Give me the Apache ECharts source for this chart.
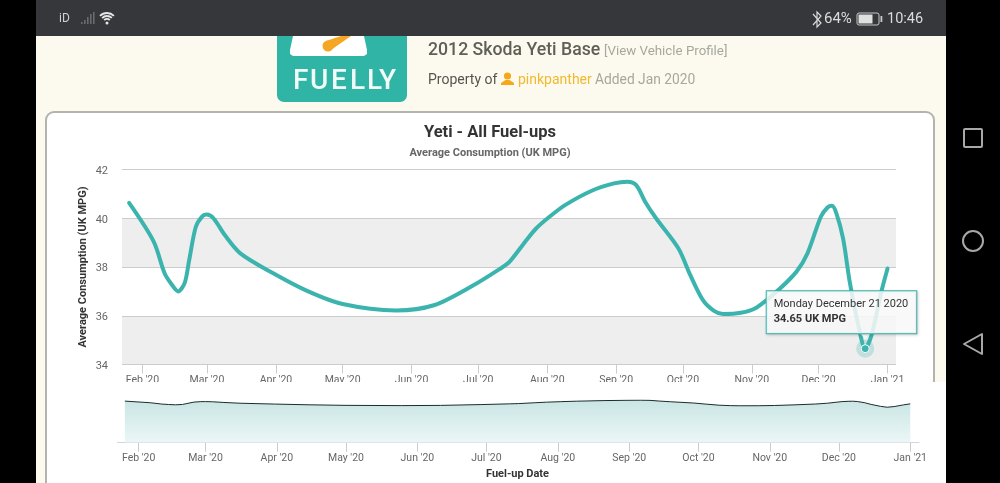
<!DOCTYPE html>
<html>
<head>
<meta charset="utf-8">
<style>html,body{margin:0;padding:0;background:#000}#c{width:1000px;height:483px}</style>
<script src="https://cdn.jsdelivr.net/npm/echarts@6/dist/echarts.min.js"></script>
</head>
<body>
<div id="c"></div>
<script>
const fuelDates = ['2020-01-26','2020-02-06','2020-02-11','2020-02-14','2020-02-17','2020-02-20','2020-02-22','2020-02-25','2020-02-28','2020-03-01','2020-03-04','2020-03-09','2020-03-16','2020-03-31','2020-04-15','2020-05-01','2020-05-25','2020-06-11','2020-06-29','2020-07-11','2020-07-15','2020-07-22','2020-07-27','2020-08-02','2020-08-09','2020-08-21','2020-08-31','2020-09-06','2020-09-10','2020-09-14','2020-09-19','2020-09-29','2020-10-04','2020-10-10','2020-10-15','2020-10-19','2020-10-27','2020-11-03','2020-11-12','2020-11-21','2020-11-26','2020-12-02','2020-12-05','2020-12-07','2020-12-09','2020-12-12','2020-12-15','2020-12-19','2020-12-21T23:00','2020-12-25','2020-12-29','2021-01-01'];
const mpgValues = [40.63,39.05,37.73,37.3,37.0,37.35,38.28,39.65,40.09,40.15,39.99,39.31,38.56,37.73,37.02,36.48,36.22,36.43,37.26,37.94,38.21,39.03,39.58,40.06,40.54,41.13,41.43,41.5,41.36,40.68,39.99,38.76,37.73,36.64,36.2,36.07,36.12,36.33,36.98,37.8,38.56,40.06,40.44,40.51,40.2,39.17,37.39,35.55,34.65,35.27,36.91,37.94];
const monthTicks = ['2020-02-01','2020-03-01','2020-04-01','2020-05-01','2020-06-01','2020-07-01','2020-08-01','2020-09-01','2020-10-01','2020-11-01','2020-12-01','2021-01-01'];
const monthLabels = ["Feb '20","Mar '20","Apr '20","May '20","Jun '20","Jul '20","Aug '20","Sep '20","Oct '20","Nov '20","Dec '20","Jan '21"];
const yTicks = [34,36,38,40,42];
const highlightDate = '2020-12-21T23:00';
const highlightText = 'Monday December 21 2020';
const unit = 'UK MPG';

const ts = s => new Date(s.length > 10 ? s + ':00Z' : s + 'T00:00:00Z').getTime();
const seriesData = fuelDates.map((d, i) => [ts(d), mpgValues[i]]);
const tickTs = monthTicks.map(ts);
const DAY = 864e5;
const xMin = ts('2020-02-01') - 9.2 * DAY;
const xMax = ts('2020-02-01') + 338.8 * DAY;
const labelOf = v => { const i = tickTs.indexOf(v); return i >= 0 ? monthLabels[i] : ''; };
const hi = fuelDates.indexOf(highlightDate);

const FONT = 'Roboto';
const t = (x, y, text, size, fill, weight, extra) => ({
  type: 'text', z: (extra && extra.z) || 1, silent: true,
  style: Object.assign({ x, y, text, fill, font: (weight || 'normal') + ' ' + size + 'px ' + FONT, textVerticalAlign: 'middle' }, extra || {})
});
const r = (x, y, w, h, fill, z, rad, stroke, lw) => ({
  type: 'rect', z: z === undefined ? 0 : z, silent: true,
  shape: { x, y, width: w, height: h, r: rad || 0 },
  style: { fill: fill, stroke: stroke, lineWidth: lw }
});
const navStroke = '#a8a8a8';
const chrome = [
  r(0, 0, 1000, 483, '#000000', -5),
  r(36, 36, 910, 447, '#fcfaee', -4),
  // card
  r(46, 112, 888, 400, '#ffffff', -3, 8, '#b4b4ae', 2),
  // logo
  r(277, 20, 130, 82, '#2fb4a6', -2, 7),
  { type: 'polygon', z: -1, silent: true, shape: { points: [[293, 36], [364, 36], [367, 50], [367, 54], [364, 56], [293, 56], [290, 54], [290, 50]] }, style: { fill: '#ffffff' } },
  { type: 'polygon', z: 0, silent: true, shape: { points: [[326, 41], [341, 36], [351, 36], [331, 50]] }, style: { fill: '#f5a623' } },
  { type: 'circle', z: 0, silent: true, shape: { cx: 328, cy: 46, r: 5.5 }, style: { fill: '#f5a623' } },
  t(293, 81.5, 'F', 28, '#f1fbf8', '500'), t(310, 81.5, 'U', 28, '#f1fbf8', '500'), t(331, 81.5, 'E', 28, '#f1fbf8', '500'),
  t(350, 81.5, 'L', 28, '#f1fbf8', '500'), t(367, 81.5, 'L', 28, '#f1fbf8', '500'), t(379, 81.5, 'Y', 28, '#f1fbf8', '500'),
  // status bar
  r(36, 0, 910, 36, '#36373b', 1),
  t(59, 19, 'iD', 12, '#d0d0d0', 'normal', { z: 2 }),
  r(81, 22, 1.6, 2, '#6a6a6a', 2), r(84, 20, 1.6, 4, '#6a6a6a', 2), r(87, 17, 1.6, 7, '#6a6a6a', 2), r(90, 14, 1.6, 10, '#6a6a6a', 2), r(93, 12, 1.6, 12, '#6a6a6a', 2),
  { type: 'arc', z: 2, silent: true, shape: { cx: 107, cy: 23, r: 10, startAngle: -2.35, endAngle: -0.8 }, style: { stroke: '#e6e6e6', lineWidth: 1.8, fill: 'none' } },
  { type: 'arc', z: 2, silent: true, shape: { cx: 107, cy: 23, r: 7, startAngle: -2.35, endAngle: -0.8 }, style: { stroke: '#e6e6e6', lineWidth: 1.8, fill: 'none' } },
  { type: 'arc', z: 2, silent: true, shape: { cx: 107, cy: 23, r: 4, startAngle: -2.35, endAngle: -0.8 }, style: { stroke: '#e6e6e6', lineWidth: 1.8, fill: 'none' } },
  { type: 'circle', z: 2, silent: true, shape: { cx: 107, cy: 23, r: 1.5 }, style: { fill: '#e6e6e6' } },
  { type: 'polyline', z: 2, silent: true, shape: { points: [[813, 14], [821, 23], [817, 27], [817, 12], [821, 16], [813, 25]] }, style: { stroke: '#d8d8d8', lineWidth: 1.2, fill: 'none' } },
  t(824, 19, '64%', 15, '#dcdcdc', 'normal', { z: 2 }),
  r(857, 13, 22, 12, 'none', 2, 2, '#c8c8c8', 1),
  r(858.5, 14.5, 14, 9, '#e0e0e0', 2),
  r(880.5, 16, 1.8, 6, '#c8c8c8', 2),
  t(887, 19, '10:46', 14.5, '#dcdcdc', 'normal', { z: 2 }),
  // nav buttons
  r(964, 129, 18, 18, 'none', 1, 1, navStroke, 2),
  { type: 'circle', z: 1, silent: true, shape: { cx: 973, cy: 241, r: 10 }, style: { stroke: navStroke, lineWidth: 2, fill: 'none' } },
  { type: 'polygon', z: 1, silent: true, shape: { points: [[964, 344], [982, 334], [982, 354]] }, style: { stroke: navStroke, lineWidth: 2, fill: 'none', lineJoin: 'round' } },
  // heading
  t(428, 51, '2012 Skoda Yeti Base', 17.7, '#5f5f58', '500'),
  t(604, 52, '[View Vehicle Profile]', 13.3, '#a7a79f'),
  t(428, 80.5, 'Property of', 14, '#55554f'),
  { type: 'circle', z: 1, silent: true, shape: { cx: 507.5, cy: 76, r: 3.6 }, style: { fill: '#f5a81c' } },
  { type: 'polygon', z: 1, silent: true, shape: { points: [[501, 85], [514, 85], [514, 83], [509.5, 80], [505.5, 80], [501, 83]] }, style: { fill: '#f5a81c' } },
  t(518, 80.5, 'pinkpanther', 14, '#f0b92f'),
  t(595, 80.5, 'Added Jan 2020', 13.8, '#a7a79f'),
  // overview panel mask, clips the main chart's month labels as in the picture
  r(47, 382, 899, 101, '#ffffff', 5),
  t(517.5, 474, 'Fuel-up Date', 11, '#333333', 'bold', { textAlign: 'center', z: 6 })
];

const monthAxis = (grid, z) => ({
  type: 'value', gridIndex: grid, min: xMin, max: xMax, z: z, scale: true,
  axisLine: { show: grid === 1, onZero: false, lineStyle: { color: '#ccd6eb' } },
  axisTick: { show: true, length: 9, customValues: tickTs, lineStyle: { color: '#cccccc' } },
  axisLabel: { customValues: tickTs, formatter: labelOf, color: '#666666', fontSize: 10.5, fontFamily: FONT, margin: 10, hideOverlap: false },
  splitLine: { show: false }
});

const option = {
  useUTC: true,
  animation: false,
  backgroundColor: 'transparent',
  textStyle: { fontFamily: FONT },
  title: [
    { text: 'Yeti - All Fuel-ups', left: 485, top: 119, textAlign: 'center', z: 6, textStyle: { fontFamily: FONT, fontSize: 16.5, fontWeight: 'bold', color: '#333333' } },
    { text: 'Average Consumption (UK MPG)', left: 485, top: 143, textAlign: 'center', z: 6, textStyle: { fontFamily: FONT, fontSize: 11, fontWeight: 'bold', color: '#666666' } }
  ],
  graphic: { elements: chrome },
  grid: [
    { left: 122, right: 104, top: 169.5, height: 195, z: 2 },
    { left: 117.5, right: 81, top: 399.7, height: 43, z: 6 }
  ],
  xAxis: [monthAxis(0, 2), monthAxis(1, 6)],
  yAxis: [
    {
      type: 'value', gridIndex: 0, min: yTicks[0], max: yTicks[yTicks.length - 1], interval: 2, z: 2,
      name: 'Average Consumption (UK MPG)', nameLocation: 'middle', nameGap: 33, nameMoveOverlap: false,
      nameTextStyle: { fontFamily: FONT, fontSize: 11, fontWeight: 'bold', color: '#333333' },
      axisLine: { show: false }, axisTick: { show: false },
      axisLabel: { color: '#666666', fontSize: 11, fontFamily: FONT, margin: 14, verticalAlign: 'top', lineHeight: 3 },
      splitLine: { show: true, lineStyle: { color: '#cccccc', width: 1 } },
      splitArea: { show: true, areaStyle: { color: ['#eeeeee', '#ffffff'] } }
    },
    {
      type: 'value', gridIndex: 1, min: 0, max: 42, show: false, z: 6
    }
  ],
  series: [
    {
      type: 'line', xAxisIndex: 0, yAxisIndex: 0, z: 3, data: seriesData, smooth: 0.3, showSymbol: false, silent: true,
      lineStyle: { color: '#3cb4ae', width: 4, cap: 'round' },
      markPoint: {
        silent: true, z: 4, animation: false,
        data: [
          { coord: seriesData[hi], symbol: 'circle', symbolSize: 18, itemStyle: { color: 'rgba(60,180,174,0.25)' }, label: { show: false } },
          { coord: seriesData[hi], symbol: 'circle', symbolSize: 8, itemStyle: { color: '#3cb4ae', borderColor: '#ffffff', borderWidth: 1 }, label: { show: false } },
          { coord: seriesData[hi], symbol: 'triangle', symbolSize: [12, 6], symbolRotate: 180, symbolOffset: [0, -13], itemStyle: { color: 'rgba(255,255,255,0.8)' }, label: { show: false } },
          {
            coord: seriesData[hi], symbol: 'circle', symbolSize: 1, itemStyle: { color: 'rgba(0,0,0,0)' },
            label: {
              show: true, position: [-98, -57],
              formatter: '{a|' + highlightText + '}\n{b|' + mpgValues[hi].toFixed(2) + ' ' + unit + '}',
              backgroundColor: 'rgba(255,255,255,0.84)', borderColor: '#3cb4ae', borderWidth: 1,
              padding: [6, 8, 6, 7], shadowColor: 'rgba(0,0,0,0.18)', shadowBlur: 3, shadowOffsetX: 1, shadowOffsetY: 1,
              rich: {
                a: { fontFamily: FONT, fontSize: 11, color: '#333333', lineHeight: 15 },
                b: { fontFamily: FONT, fontSize: 11, fontWeight: 'bold', color: '#333333', lineHeight: 15 }
              }
            }
          }
        ]
      }
    },
    {
      type: 'line', xAxisIndex: 1, yAxisIndex: 1, z: 7, data: seriesData, smooth: false, showSymbol: false, silent: true,
      lineStyle: { color: '#1c2b2b', width: 1 },
      areaStyle: { origin: 'start', color: { type: 'linear', x: 0, y: 0, x2: 0, y2: 1, colorStops: [{ offset: 0, color: '#b2dad9' }, { offset: 1, color: '#e4f3f2' }] } }
    }
  ]
};
const chart = echarts.init(document.getElementById('c'), null, { renderer: 'canvas', width: 1000, height: 483 });
chart.setOption(option);
</script>
</body>
</html>
